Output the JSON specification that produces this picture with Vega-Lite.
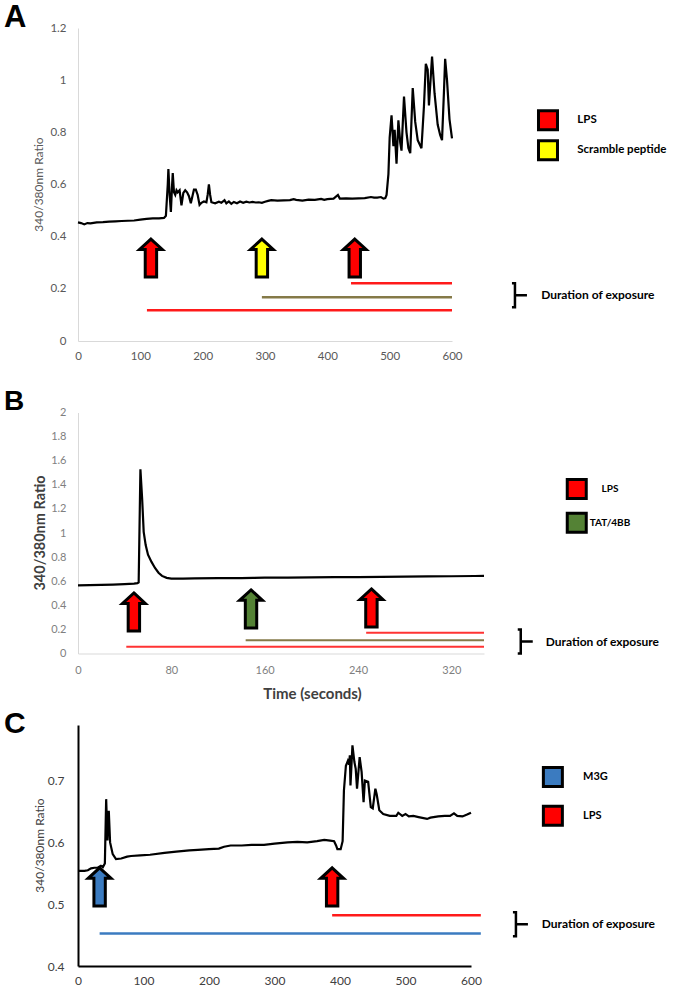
{
  "$schema": "https://vega.github.io/schema/vega-lite/v6.json",
  "background": "white",
  "padding": {"left": 4, "top": 2, "right": 0, "bottom": 0},
  "bounds": "flush",
  "spacing": 71.5,
  "resolve": {
    "scale": {"x": "independent", "y": "independent", "fill": "independent", "stroke": "independent"}
  },
  "config": {
    "font": "Lato",
    "view": {"stroke": null},
    "axis": {"labelFont": "Lato", "titleFont": "Lato", "ticks": false, "grid": false, "labelOverlap": false, "labelBound": false, "labelFlush": false},
    "axisY": {"labelOverlap": false},
    "axisQuantitative": {"labelOverlap": false},
    "title": {"font": "Liberation Sans", "fontSize": 30, "fontWeight": "bold", "color": "#000000", "anchor": "start", "frame": "group", "baseline": "alphabetic", "offset": 0, "dx": -74}
  },
  "datasets": {
    "traceA": [
      {"t": 0, "v": 0.455}, {"t": 5, "v": 0.452}, {"t": 10, "v": 0.447}, {"t": 15, "v": 0.452}, {"t": 20, "v": 0.451},
      {"t": 30, "v": 0.455}, {"t": 40, "v": 0.456}, {"t": 50, "v": 0.458}, {"t": 60, "v": 0.459}, {"t": 70, "v": 0.46},
      {"t": 80, "v": 0.461}, {"t": 90, "v": 0.462}, {"t": 100, "v": 0.465}, {"t": 110, "v": 0.468}, {"t": 120, "v": 0.47},
      {"t": 130, "v": 0.47}, {"t": 138, "v": 0.472}, {"t": 141, "v": 0.48}, {"t": 144, "v": 0.6}, {"t": 145, "v": 0.659},
      {"t": 147, "v": 0.56}, {"t": 149, "v": 0.495}, {"t": 151, "v": 0.6}, {"t": 152, "v": 0.644}, {"t": 154, "v": 0.57},
      {"t": 156, "v": 0.56}, {"t": 158, "v": 0.578}, {"t": 160, "v": 0.57}, {"t": 163, "v": 0.578}, {"t": 166, "v": 0.52},
      {"t": 169, "v": 0.568}, {"t": 172, "v": 0.578}, {"t": 175, "v": 0.57}, {"t": 178, "v": 0.555}, {"t": 181, "v": 0.528},
      {"t": 184, "v": 0.56}, {"t": 186, "v": 0.58}, {"t": 189, "v": 0.58}, {"t": 192, "v": 0.56}, {"t": 195, "v": 0.522},
      {"t": 198, "v": 0.53}, {"t": 202, "v": 0.535}, {"t": 206, "v": 0.532}, {"t": 208, "v": 0.56}, {"t": 210, "v": 0.6},
      {"t": 212, "v": 0.56}, {"t": 214, "v": 0.532}, {"t": 220, "v": 0.528}, {"t": 226, "v": 0.534}, {"t": 230, "v": 0.53},
      {"t": 235, "v": 0.54}, {"t": 238, "v": 0.528}, {"t": 242, "v": 0.535}, {"t": 246, "v": 0.526}, {"t": 250, "v": 0.533},
      {"t": 255, "v": 0.528}, {"t": 260, "v": 0.535}, {"t": 265, "v": 0.53}, {"t": 270, "v": 0.534}, {"t": 275, "v": 0.531},
      {"t": 280, "v": 0.533}, {"t": 285, "v": 0.531}, {"t": 290, "v": 0.532}, {"t": 295, "v": 0.53}, {"t": 300, "v": 0.534},
      {"t": 305, "v": 0.537}, {"t": 310, "v": 0.54}, {"t": 320, "v": 0.538}, {"t": 330, "v": 0.539}, {"t": 340, "v": 0.54},
      {"t": 346, "v": 0.544}, {"t": 350, "v": 0.541}, {"t": 360, "v": 0.538}, {"t": 370, "v": 0.542}, {"t": 380, "v": 0.541},
      {"t": 390, "v": 0.545}, {"t": 395, "v": 0.541}, {"t": 400, "v": 0.544}, {"t": 410, "v": 0.546}, {"t": 417, "v": 0.56},
      {"t": 420, "v": 0.546}, {"t": 430, "v": 0.547}, {"t": 440, "v": 0.546}, {"t": 450, "v": 0.547}, {"t": 460, "v": 0.548},
      {"t": 470, "v": 0.552}, {"t": 475, "v": 0.55}, {"t": 480, "v": 0.55}, {"t": 486, "v": 0.552}, {"t": 490, "v": 0.546},
      {"t": 493, "v": 0.548}, {"t": 495, "v": 0.56}, {"t": 498, "v": 0.64}, {"t": 500, "v": 0.78}, {"t": 503, "v": 0.865},
      {"t": 506, "v": 0.747}, {"t": 508, "v": 0.81}, {"t": 511, "v": 0.68}, {"t": 514, "v": 0.846}, {"t": 517, "v": 0.76},
      {"t": 519, "v": 0.73}, {"t": 523, "v": 0.937}, {"t": 527, "v": 0.8}, {"t": 530, "v": 0.74}, {"t": 533, "v": 0.72},
      {"t": 537, "v": 0.97}, {"t": 541, "v": 0.84}, {"t": 545, "v": 0.77}, {"t": 551, "v": 0.739}, {"t": 555, "v": 0.9},
      {"t": 558, "v": 1.063}, {"t": 561, "v": 1.04}, {"t": 563, "v": 0.903}, {"t": 568, "v": 1.09}, {"t": 572, "v": 0.95},
      {"t": 577, "v": 0.83}, {"t": 581, "v": 0.79}, {"t": 584, "v": 0.77}, {"t": 587, "v": 0.95}, {"t": 589, "v": 1.082},
      {"t": 592, "v": 1.0}, {"t": 596, "v": 0.85}, {"t": 600, "v": 0.777}
    ],
    "traceB": [
      {"t": 0, "v": 0.565}, {"t": 10, "v": 0.568}, {"t": 20, "v": 0.57}, {"t": 30, "v": 0.572}, {"t": 40, "v": 0.576},
      {"t": 48, "v": 0.58}, {"t": 51, "v": 0.584}, {"t": 52, "v": 0.59}, {"t": 53.5, "v": 1.529}, {"t": 55, "v": 1.28},
      {"t": 56.3, "v": 1.01}, {"t": 58, "v": 0.9}, {"t": 60, "v": 0.82}, {"t": 63, "v": 0.76}, {"t": 66, "v": 0.71},
      {"t": 69, "v": 0.67}, {"t": 72, "v": 0.644}, {"t": 76, "v": 0.628}, {"t": 80, "v": 0.622}, {"t": 90, "v": 0.621},
      {"t": 100, "v": 0.623}, {"t": 120, "v": 0.625}, {"t": 140, "v": 0.626}, {"t": 150, "v": 0.628}, {"t": 160, "v": 0.629},
      {"t": 180, "v": 0.63}, {"t": 200, "v": 0.632}, {"t": 220, "v": 0.633}, {"t": 240, "v": 0.634}, {"t": 260, "v": 0.636},
      {"t": 280, "v": 0.638}, {"t": 300, "v": 0.64}, {"t": 320, "v": 0.641}, {"t": 340, "v": 0.643}, {"t": 348, "v": 0.644}
    ],
    "traceC": [
      {"t": 0, "v": 0.554}, {"t": 10, "v": 0.554}, {"t": 15, "v": 0.555}, {"t": 20, "v": 0.558}, {"t": 25, "v": 0.559},
      {"t": 30, "v": 0.559}, {"t": 35, "v": 0.562}, {"t": 38, "v": 0.56}, {"t": 41, "v": 0.566}, {"t": 43, "v": 0.67},
      {"t": 45, "v": 0.603}, {"t": 46, "v": 0.64}, {"t": 47, "v": 0.651}, {"t": 49, "v": 0.6}, {"t": 53, "v": 0.581},
      {"t": 58, "v": 0.573}, {"t": 66, "v": 0.574}, {"t": 75, "v": 0.577}, {"t": 81, "v": 0.578}, {"t": 95, "v": 0.579},
      {"t": 110, "v": 0.58}, {"t": 132, "v": 0.583}, {"t": 150, "v": 0.585}, {"t": 170, "v": 0.587}, {"t": 183, "v": 0.588},
      {"t": 200, "v": 0.589}, {"t": 215, "v": 0.59}, {"t": 223, "v": 0.593}, {"t": 233, "v": 0.595}, {"t": 250, "v": 0.595},
      {"t": 265, "v": 0.596}, {"t": 284, "v": 0.596}, {"t": 300, "v": 0.598}, {"t": 320, "v": 0.6}, {"t": 335, "v": 0.601},
      {"t": 350, "v": 0.6}, {"t": 365, "v": 0.602}, {"t": 376, "v": 0.604}, {"t": 385, "v": 0.603}, {"t": 391, "v": 0.602},
      {"t": 394, "v": 0.595}, {"t": 396, "v": 0.589}, {"t": 401, "v": 0.589}, {"t": 404, "v": 0.602}, {"t": 406, "v": 0.684},
      {"t": 409, "v": 0.724}, {"t": 412, "v": 0.732}, {"t": 414, "v": 0.726}, {"t": 415, "v": 0.741}, {"t": 416, "v": 0.692},
      {"t": 419, "v": 0.757}, {"t": 422, "v": 0.73}, {"t": 424, "v": 0.719}, {"t": 426, "v": 0.687}, {"t": 430, "v": 0.738},
      {"t": 433, "v": 0.714}, {"t": 436, "v": 0.665}, {"t": 438, "v": 0.7}, {"t": 443, "v": 0.698}, {"t": 447, "v": 0.657},
      {"t": 450, "v": 0.655}, {"t": 454, "v": 0.687}, {"t": 456, "v": 0.678}, {"t": 460, "v": 0.652}, {"t": 466, "v": 0.646},
      {"t": 476, "v": 0.643}, {"t": 486, "v": 0.643}, {"t": 489, "v": 0.648}, {"t": 495, "v": 0.643}, {"t": 500, "v": 0.646},
      {"t": 505, "v": 0.642}, {"t": 512, "v": 0.643}, {"t": 520, "v": 0.641}, {"t": 533, "v": 0.638}, {"t": 538, "v": 0.64},
      {"t": 550, "v": 0.642}, {"t": 560, "v": 0.643}, {"t": 568, "v": 0.643}, {"t": 574, "v": 0.647}, {"t": 579, "v": 0.643},
      {"t": 587, "v": 0.642}, {"t": 594, "v": 0.645}, {"t": 600, "v": 0.648}
    ]
  },
  "vconcat": [
    {
      "width": 374,
      "height": 313,
      "title": {"text": "A", "dy": 16, "fontSize": 31},
      "layer": [
        {
          "data": {"name": "traceA"},
          "mark": {"type": "line", "color": "#000000", "strokeWidth": 2.2},
          "encoding": {
            "x": {"field": "t", "type": "quantitative", "scale": {"domain": [0, 600], "nice": false, "zero": false},
              "axis": {"values": [0, 100, 200, 300, 400, 500, 600], "title": null, "domainColor": "#d9d9d9", "labelColor": "#595959", "labelFontSize": 11.5, "labelPadding": 9, "labelFlush": false}},
            "y": {"field": "v", "type": "quantitative", "scale": {"domain": [0, 1.2], "nice": false},
              "axis": {"values": [0, 0.2, 0.4, 0.6, 0.8, 1, 1.2], "format": "~g", "labelOverlap": false, "tickCount": 7, "domainColor": "#d9d9d9", "labelColor": "#595959", "labelFontSize": 11.5, "labelPadding": 12,
                "title": "340/380nm Ratio", "titleFontSize": 12, "titleFontWeight": "normal", "titleColor": "#595959", "titleX": -40, "titleY": 156, "titleBaseline": "middle", "titleAlign": "center"}}
          }
        },
        {
          "data": {"values": [
            {"exposure": "LPS", "start": 110.6, "end": 600, "level": 0.118},
            {"exposure": "Scramble peptide", "start": 295, "end": 600, "level": 0.168},
            {"exposure": "LPS", "start": 438, "end": 600, "level": 0.221}
          ]},
          "mark": {"type": "rule", "strokeWidth": 2.5},
          "encoding": {
            "x": {"field": "start", "type": "quantitative"},
            "x2": {"field": "end"},
            "y": {"field": "level", "type": "quantitative"},
            "stroke": {"field": "exposure", "type": "nominal", "scale": {"domain": ["LPS", "Scramble peptide"], "range": ["#ff1a1a", "#857a48"]}, "legend": null}
          }
        },
        {
          "data": {"values": [
            {"treatment": "LPS", "t": 117, "v": 0.318},
            {"treatment": "Scramble peptide", "t": 295, "v": 0.318},
            {"treatment": "LPS", "t": 444, "v": 0.318}
          ]},
          "mark": {"type": "point", "filled": true, "opacity": 1, "size": 1444, "stroke": "#000000", "strokeWidth": 3,
            "shape": "M0,-1 L0.6,-0.45 L0.3,-0.45 L0.3,1 L-0.3,1 L-0.3,-0.45 L-0.6,-0.45 Z"},
          "encoding": {
            "x": {"field": "t", "type": "quantitative"},
            "y": {"field": "v", "type": "quantitative"},
            "fill": {"field": "treatment", "type": "nominal", "scale": {"domain": ["LPS", "Scramble peptide"], "range": ["#ff0000", "#ffff00"]}, "legend": null}
          }
        },
        {
          "data": {"values": [
            {"treatment": "LPS", "t": 754, "v": 0.846},
            {"treatment": "Scramble peptide", "t": 754, "v": 0.731}
          ]},
          "mark": {"type": "point", "shape": "square", "filled": true, "opacity": 1, "size": 361, "stroke": "#000000", "strokeWidth": 3},
          "encoding": {
            "x": {"field": "t", "type": "quantitative"},
            "y": {"field": "v", "type": "quantitative"},
            "fill": {"field": "treatment", "type": "nominal", "legend": null}
          }
        },
        {
          "data": {"values": [
            {"treatment": "LPS", "t": 801, "v": 0.846},
            {"treatment": "Scramble peptide", "t": 801, "v": 0.731}
          ]},
          "mark": {"type": "text", "align": "left", "baseline": "middle", "font": "Lato", "fontWeight": "bold", "fontSize": 11.5, "color": "#000000"},
          "encoding": {"x": {"field": "t", "type": "quantitative"}, "y": {"field": "v", "type": "quantitative"}, "text": {"field": "treatment"}}
        },
        {
          "data": {"values": [{"t": 701, "v": 0.175}]},
          "mark": {"type": "point", "filled": false, "size": 576, "stroke": "#000000", "strokeWidth": 2.5, "opacity": 1,
            "shape": "M-0.25,-1 L0,-1 L0,1 L-0.25,1 M0,0 L1,0"},
          "encoding": {"x": {"field": "t", "type": "quantitative"}, "y": {"field": "v", "type": "quantitative"}}
        },
        {
          "data": {"values": [{"t": 743, "v": 0.175, "label": "Duration of exposure"}]},
          "mark": {"type": "text", "align": "left", "baseline": "middle", "font": "Lato", "fontWeight": "bold", "fontSize": 12, "color": "#000000"},
          "encoding": {"x": {"field": "t", "type": "quantitative"}, "y": {"field": "v", "type": "quantitative"}, "text": {"field": "label"}}
        }
      ]
    },
    {
      "width": 406,
      "height": 241,
      "title": {"text": "B", "dy": 13, "fontSize": 28},
      "layer": [
        {
          "data": {"name": "traceB"},
          "mark": {"type": "line", "color": "#000000", "strokeWidth": 2.2},
          "encoding": {
            "x": {"field": "t", "type": "quantitative", "scale": {"domain": [0, 348], "nice": false, "zero": false},
              "axis": {"values": [0, 80, 160, 240, 320], "labelFlush": false, "domainColor": "#d9d9d9", "labelColor": "#7f7f7f", "labelFontSize": 11, "labelPadding": 11,
                "title": "Time (seconds)", "titleFontSize": 15, "titleFontWeight": "bold", "titleColor": "#404040", "titleX": 234, "titleY": 40, "titleBaseline": "middle", "titleAlign": "center"}},
            "y": {"field": "v", "type": "quantitative", "scale": {"domain": [0, 2], "nice": false},
              "axis": {"values": [0, 0.2, 0.4, 0.6, 0.8, 1, 1.2, 1.4, 1.6, 1.8, 2], "format": "~g", "labelOverlap": false, "labelBound": false, "tickCount": 11, "domainColor": "#d9d9d9", "labelColor": "#7f7f7f", "labelFontSize": 11, "labelPadding": 12,
                "title": "340/380nm Ratio", "titleFontSize": 14.5, "titleFontWeight": "bold", "titleColor": "#404040", "titleX": -38, "titleY": 120, "titleBaseline": "middle", "titleAlign": "center"}}
          }
        },
        {
          "data": {"values": [
            {"exposure": "LPS", "start": 41.4, "end": 348, "level": 0.055},
            {"exposure": "TAT/4BB", "start": 143.7, "end": 348, "level": 0.11},
            {"exposure": "LPS", "start": 247, "end": 348, "level": 0.173}
          ]},
          "mark": {"type": "rule", "strokeWidth": 2},
          "encoding": {
            "x": {"field": "start", "type": "quantitative"},
            "x2": {"field": "end"},
            "y": {"field": "level", "type": "quantitative"},
            "stroke": {"field": "exposure", "type": "nominal", "scale": {"domain": ["LPS", "TAT/4BB"], "range": ["#ff3333", "#857a48"]}, "legend": null}
          }
        },
        {
          "data": {"values": [
            {"treatment": "LPS", "t": 47.9, "v": 0.345},
            {"treatment": "TAT/4BB", "t": 148.3, "v": 0.37},
            {"treatment": "LPS", "t": 251.5, "v": 0.378}
          ]},
          "mark": {"type": "point", "filled": true, "opacity": 1, "size": 1444, "stroke": "#000000", "strokeWidth": 3,
            "shape": "M0,-1 L0.6,-0.45 L0.3,-0.45 L0.3,1 L-0.3,1 L-0.3,-0.45 L-0.6,-0.45 Z"},
          "encoding": {
            "x": {"field": "t", "type": "quantitative"},
            "y": {"field": "v", "type": "quantitative"},
            "fill": {"field": "treatment", "type": "nominal", "scale": {"domain": ["LPS", "TAT/4BB"], "range": ["#ff0000", "#548235"]}, "legend": null}
          }
        },
        {
          "data": {"values": [
            {"treatment": "LPS", "t": 427.5, "v": 1.365},
            {"treatment": "TAT/4BB", "t": 427.5, "v": 1.085}
          ]},
          "mark": {"type": "point", "shape": "square", "filled": true, "opacity": 1, "size": 361, "stroke": "#000000", "strokeWidth": 3},
          "encoding": {
            "x": {"field": "t", "type": "quantitative"},
            "y": {"field": "v", "type": "quantitative"},
            "fill": {"field": "treatment", "type": "nominal", "legend": null}
          }
        },
        {
          "data": {"values": [
            {"treatment": "LPS", "t": 456, "v": 1.365},
            {"treatment": "TAT/4BB", "t": 456, "v": 1.085}
          ]},
          "mark": {"type": "text", "align": "center", "baseline": "middle", "font": "Lato", "fontWeight": "bold", "fontSize": 10, "color": "#000000"},
          "encoding": {"x": {"field": "t", "type": "quantitative"}, "y": {"field": "v", "type": "quantitative"}, "text": {"field": "treatment"}}
        },
        {
          "data": {"values": [{"t": 379.5, "v": 0.099}]},
          "mark": {"type": "point", "filled": false, "size": 576, "stroke": "#000000", "strokeWidth": 2.5, "opacity": 1,
            "shape": "M-0.25,-1 L0,-1 L0,1 L-0.25,1 M0,0 L1,0"},
          "encoding": {"x": {"field": "t", "type": "quantitative"}, "y": {"field": "v", "type": "quantitative"}}
        },
        {
          "data": {"values": [{"t": 400.9, "v": 0.099, "label": "Duration of exposure"}]},
          "mark": {"type": "text", "align": "left", "baseline": "middle", "font": "Lato", "fontWeight": "bold", "fontSize": 12, "color": "#000000"},
          "encoding": {"x": {"field": "t", "type": "quantitative"}, "y": {"field": "v", "type": "quantitative"}, "text": {"field": "label"}}
        }
      ]
    },
    {
      "width": 393,
      "height": 241,
      "title": {"text": "C", "dy": 18, "fontSize": 30},
      "layer": [
        {
          "data": {"name": "traceC"},
          "mark": {"type": "line", "color": "#000000", "strokeWidth": 2.2},
          "encoding": {
            "x": {"field": "t", "type": "quantitative", "scale": {"domain": [0, 600], "nice": false, "zero": false},
              "axis": {"values": [0, 100, 200, 300, 400, 500, 600], "labelFlush": false, "title": null, "domainColor": "#000000", "domainWidth": 2, "labelColor": "#404040", "labelFontSize": 12, "labelPadding": 9}},
            "y": {"field": "v", "type": "quantitative", "scale": {"domain": [0.4, 0.79], "nice": false, "zero": false},
              "axis": {"values": [0.4, 0.5, 0.6, 0.7], "format": "~g", "labelOverlap": false, "tickCount": 4, "domainColor": "#000000", "domainWidth": 2, "labelColor": "#404040", "labelFontSize": 12, "labelPadding": 14,
                "title": "340/380nm Ratio", "titleFontSize": 12, "titleFontWeight": "normal", "titleColor": "#404040", "titleX": -39, "titleY": 120, "titleBaseline": "middle", "titleAlign": "center"}}
          }
        },
        {
          "data": {"values": [
            {"exposure": "M3G", "start": 33, "end": 615, "level": 0.4525},
            {"exposure": "LPS", "start": 388, "end": 615, "level": 0.482}
          ]},
          "mark": {"type": "rule", "strokeWidth": 2.5},
          "encoding": {
            "x": {"field": "start", "type": "quantitative"},
            "x2": {"field": "end"},
            "y": {"field": "level", "type": "quantitative"},
            "stroke": {"field": "exposure", "type": "nominal", "scale": {"domain": ["M3G", "LPS"], "range": ["#3b7bc0", "#ff1a1a"]}, "legend": null}
          }
        },
        {
          "data": {"values": [
            {"treatment": "M3G", "t": 33, "v": 0.528},
            {"treatment": "LPS", "t": 388, "v": 0.528}
          ]},
          "mark": {"type": "point", "filled": true, "opacity": 1, "size": 1444, "stroke": "#000000", "strokeWidth": 3,
            "shape": "M0,-1 L0.6,-0.45 L0.3,-0.45 L0.3,1 L-0.3,1 L-0.3,-0.45 L-0.6,-0.45 Z"},
          "encoding": {
            "x": {"field": "t", "type": "quantitative"},
            "y": {"field": "v", "type": "quantitative"},
            "fill": {"field": "treatment", "type": "nominal", "scale": {"domain": ["M3G", "LPS"], "range": ["#3b7bc0", "#ff0000"]}, "legend": null}
          }
        },
        {
          "data": {"values": [
            {"treatment": "M3G", "t": 725, "v": 0.706},
            {"treatment": "LPS", "t": 725, "v": 0.643}
          ]},
          "mark": {"type": "point", "shape": "square", "filled": true, "opacity": 1, "size": 361, "stroke": "#000000", "strokeWidth": 3},
          "encoding": {
            "x": {"field": "t", "type": "quantitative"},
            "y": {"field": "v", "type": "quantitative"},
            "fill": {"field": "treatment", "type": "nominal", "legend": null}
          }
        },
        {
          "data": {"values": [
            {"treatment": "M3G", "t": 771, "v": 0.706},
            {"treatment": "LPS", "t": 771, "v": 0.643}
          ]},
          "mark": {"type": "text", "align": "left", "baseline": "middle", "font": "Lato", "fontWeight": "bold", "fontSize": 11, "color": "#000000"},
          "encoding": {"x": {"field": "t", "type": "quantitative"}, "y": {"field": "v", "type": "quantitative"}, "text": {"field": "treatment"}}
        },
        {
          "data": {"values": [{"t": 668.6, "v": 0.4676}]},
          "mark": {"type": "point", "filled": false, "size": 576, "stroke": "#000000", "strokeWidth": 2.5, "opacity": 1,
            "shape": "M-0.25,-1 L0,-1 L0,1 L-0.25,1 M0,0 L1,0"},
          "encoding": {"x": {"field": "t", "type": "quantitative"}, "y": {"field": "v", "type": "quantitative"}}
        },
        {
          "data": {"values": [{"t": 708, "v": 0.4676, "label": "Duration of exposure"}]},
          "mark": {"type": "text", "align": "left", "baseline": "middle", "font": "Lato", "fontWeight": "bold", "fontSize": 12, "color": "#000000"},
          "encoding": {"x": {"field": "t", "type": "quantitative"}, "y": {"field": "v", "type": "quantitative"}, "text": {"field": "label"}}
        }
      ]
    }
  ]
}
